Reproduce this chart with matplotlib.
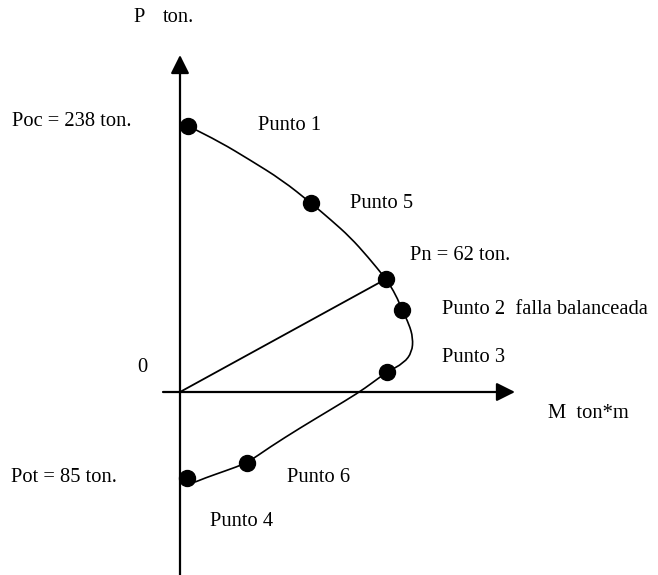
import matplotlib.pyplot as plt
from matplotlib.path import Path
from matplotlib.patches import PathPatch

plt.rcParams['font.family'] = ['Liberation Serif', 'DejaVu Serif']

# schematic units (diagram is not to scale)
# interaction curve
curve_m = [4, 8, 40, 70, 102, 131, 151, 170, 188, 206, 216, 222, 229, 233,
           232, 224, 207, 192, 178, 150, 120, 90, 67, 45, 25, 13, 3]
curve_p = [269, 266, 250, 232, 212, 189, 172, 155, 135, 113, 97, 82, 68, 54,
           40, 29, 20, 9, -1, -18, -36, -55, -71, -79, -86, -91, -92]

# marked points: Punto 1, Punto 5, Pn, Punto 2, Punto 3, Punto 6, Punto 4
pts_m = [8, 131, 206, 222, 207, 67, 7]
pts_p = [266, 189, 113, 82, 20, -71, -86]

# point with Pn = 62 ton, joined to the origin
pn_m = 206
pn_p = 113

labels = ['Poc = 238 ton.', 'Punto 1', 'Punto 5', 'Pn = 62 ton.',
          'Punto 2  falla balanceada', 'Punto 3', 'Pot = 85 ton.',
          'Punto 6', 'Punto 4']
label_m = [-168, 78, 170, 230, 262, 262, -169, 107, 30]
label_p = [270, 267, 189, 137, 83, 35, -85, -85, -130]

fig = plt.figure(figsize=(6.58, 5.75), dpi=100)
ax = fig.add_axes([0, 0, 1, 1])
ax.set_xlim(-180, 478)
ax.set_ylim(-183, 392)
ax.axis('off')

# axes with arrows
arrow = dict(arrowstyle='-|>,head_length=0.8,head_width=0.4',
             mutation_scale=14, lw=1.6, color='black', shrinkA=0, shrinkB=0)
ax.annotate('', xy=(0, 337), xytext=(0, -183), arrowprops=arrow)
ax.annotate('', xy=(335, 0), xytext=(-17, 0), arrowprops=arrow)

# smooth the traced curve with quadratic bezier pieces
pts = list(zip(curve_m, curve_p))
verts = [pts[0]]
codes = [Path.MOVETO]
for i in range(1, len(pts) - 1):
    mid = ((pts[i][0] + pts[i + 1][0]) / 2, (pts[i][1] + pts[i + 1][1]) / 2)
    verts += [pts[i], mid]
    codes += [Path.CURVE3, Path.CURVE3]
verts.append(pts[-1])
codes.append(Path.LINETO)
ax.add_patch(PathPatch(Path(verts, codes), fill=False, edgecolor='black', lw=1.2))

ax.plot([0, pn_m], [0, pn_p], color='black', lw=1.3)
ax.plot(pts_m, pts_p, 'o', color='black', ms=11.5, ls='none')

fs = 14.8
for txt, x, y in zip(labels, label_m, label_p):
    ax.text(x, y, txt, fontsize=fs, ha='left', va='center')

ax.text(-47, 375, 'P', fontsize=fs, ha='left', va='center')
ax.text(-17, 375, 'ton.', fontsize=fs, ha='left', va='center')
ax.text(-43, 25, '0', fontsize=fs, ha='left', va='center')
ax.text(368, -21, 'M  ton*m', fontsize=fs, ha='left', va='center')

fig.savefig('out.png', dpi=100)
